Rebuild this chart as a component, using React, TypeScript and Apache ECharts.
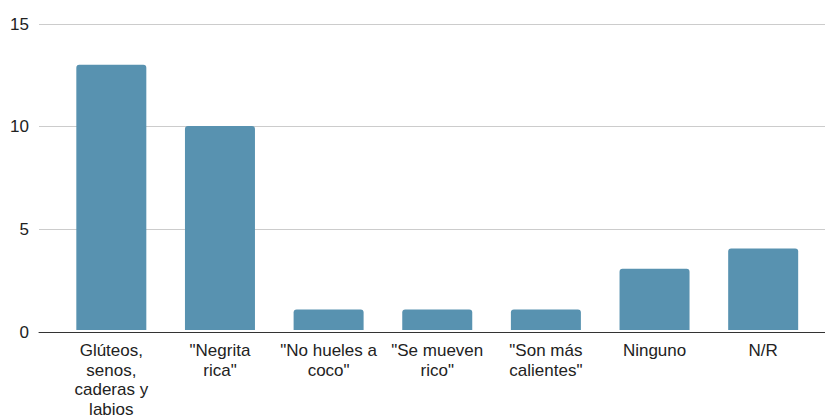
import React, { useEffect, useRef } from "react";
import * as echarts from "echarts";

const categories = [
  "Glúteos,\nsenos,\ncaderas y\nlabios",
  "\"Negrita\nrica\"",
  "\"No hueles a\ncoco\"",
  "\"Se mueven\nrico\"",
  "\"Son más\ncalientes\"",
  "Ninguno",
  "N/R",
];
const values = [13, 10, 1, 1, 1, 3, 4];
const yMin = 0;
const yMax = 15;
const yInterval = 5;

export default function App() {
  const ref = useRef<HTMLDivElement>(null);
  useEffect(() => {
    if (!ref.current) return;
    const chart = echarts.init(ref.current, null, { renderer: "svg" });
    const font = "Arial, 'Liberation Sans', sans-serif";
    chart.setOption({
      animation: false,
      grid: [
        { left: 39, right: 0, top: 24, bottom: 87 },
        { left: 57, right: 7.5, top: 24, bottom: 87 },
      ],
      xAxis: [
        {
          gridIndex: 0,
          type: "category",
          data: categories,
          show: true,
          axisLine: { show: true, lineStyle: { color: "#333333", width: 1 } },
          axisTick: { show: false },
          axisLabel: { show: false },
        },
        {
          gridIndex: 1,
          type: "category",
          data: categories,
          axisLine: { show: false },
          axisTick: { show: false },
          axisLabel: {
            color: "#222222",
            fontSize: 17,
            lineHeight: 19.5,
            fontFamily: font,
            margin: 11,
            interval: 0,
            align: "center",
          },
        },
      ],
      yAxis: [
        {
          gridIndex: 0,
          type: "value",
          min: yMin,
          max: yMax,
          interval: yInterval,
          axisLine: { show: false },
          axisTick: { show: false },
          axisLabel: {
            color: "#222222",
            fontSize: 17,
            fontFamily: font,
            margin: 10,
          },
          splitLine: { lineStyle: { color: "#cccccc", width: 1 } },
        },
        {
          gridIndex: 1,
          type: "value",
          min: yMin,
          max: yMax,
          interval: yInterval,
          show: false,
          splitLine: { show: false },
        },
      ],
      series: [
        {
          type: "bar",
          xAxisIndex: 1,
          yAxisIndex: 1,
          data: values,
          barWidth: 70,
          itemStyle: { color: "#5892b0", borderRadius: [3, 3, 0, 0] },
          z: 1,
        },
      ],
    });
    return () => chart.dispose();
  }, []);
  return <div ref={ref} style={{ width: 825, height: 419, position: "absolute", left: 0, top: 0 }} />;
}
